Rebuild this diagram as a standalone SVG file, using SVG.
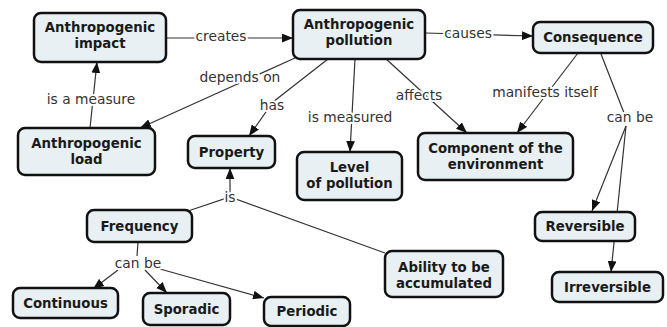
<svg xmlns="http://www.w3.org/2000/svg" width="667" height="327" viewBox="0 0 667 327">
<defs>
<style>
.node rect{fill:#e8f0f3;stroke:#111;stroke-width:2.5}
.node text{font-family:"DejaVu Sans",Verdana,sans-serif;font-weight:bold;font-size:13.3px;fill:#1a1a1a;text-anchor:middle}
.conn path{fill:none;stroke:#333;stroke-width:1.2}
.conn .a{marker-end:url(#arr)}
.lbl{font-family:"DejaVu Sans",Verdana,sans-serif;font-size:13.8px;fill:#333;text-anchor:middle;stroke:#fff;stroke-width:4;stroke-linejoin:round;paint-order:stroke}
</style>
<marker id="arr" viewBox="0 0 10 8" refX="10" refY="4" markerWidth="11" markerHeight="9" orient="auto" markerUnits="userSpaceOnUse">
<path d="M0,0 L10,4 L0,8 z" fill="#111"/>
</marker>
</defs>
<rect width="667" height="327" fill="#fff"/>
<g id="connectors" class="conn">
<path class="a" d="M166,38 L293,38"/>
<path class="a" d="M425,33 L533,36"/>
<path class="a" d="M295,58 L140,128"/>
<path class="a" d="M90,128 L97,62"/>
<path class="a" d="M328,59 L273,102 L249,136"/>
<path class="a" d="M355,59 L350,152"/>
<path class="a" d="M385,58 L467,133"/>
<path class="a" d="M578,53 L517,133"/>
<path d="M601,54 L626,118"/>
<path class="a" d="M626,126 L592,211"/>
<path class="a" d="M626,126 L611,272"/>
<path d="M188,211 L230,197 L385,253"/>
<path class="a" d="M230,197 L230,168"/>
<path d="M138,242 L137,256"/>
<path class="a" d="M118,270 L93,289"/>
<path class="a" d="M145,270 L167,293"/>
<path class="a" d="M160,269 L264,298"/>
<text class="lbl" x="221" y="41">creates</text>
<text class="lbl" x="468" y="38">causes</text>
<text class="lbl" x="240" y="82">depends on</text>
<text class="lbl" x="91" y="104">is a measure</text>
<text class="lbl" x="272" y="110">has</text>
<text class="lbl" x="350" y="122">is measured</text>
<text class="lbl" x="419" y="100">affects</text>
<text class="lbl" x="545" y="97">manifests itself</text>
<text class="lbl" x="630" y="122">can be</text>
<text class="lbl" x="230" y="202">is</text>
<text class="lbl" x="138" y="268">can be</text>
</g>
<g id="n-impact" class="node"><rect x="34" y="13" width="132" height="49" rx="7"/><text x="100" y="32">Anthropogenic</text><text x="100" y="48">impact</text></g>
<g id="n-pollution" class="node"><rect x="293" y="10" width="132" height="49" rx="7"/><text x="359" y="29">Anthropogenic</text><text x="359" y="45">pollution</text></g>
<g id="n-consequence" class="node"><rect x="533" y="22" width="120" height="31" rx="7"/><text x="593" y="42">Consequence</text></g>
<g id="n-load" class="node"><rect x="18" y="128" width="137" height="47" rx="7"/><text x="86.5" y="148">Anthropogenic</text><text x="86.5" y="164">load</text></g>
<g id="n-property" class="node"><rect x="188" y="136" width="87" height="32" rx="7"/><text x="231.5" y="157">Property</text></g>
<g id="n-level" class="node"><rect x="297" y="152" width="105" height="48" rx="7"/><text x="349.5" y="172">Level</text><text x="349.5" y="188">of pollution</text></g>
<g id="n-component" class="node"><rect x="418" y="133" width="155" height="47" rx="7"/><text x="495.5" y="153">Component of the</text><text x="495.5" y="169">environment</text></g>
<g id="n-frequency" class="node"><rect x="87" y="210" width="105" height="32" rx="7"/><text x="139.5" y="231">Frequency</text></g>
<g id="n-ability" class="node"><rect x="385" y="251" width="118" height="46" rx="7"/><text x="444" y="272">Ability to be</text><text x="444" y="288">accumulated</text></g>
<g id="n-reversible" class="node"><rect x="535" y="212" width="100" height="29" rx="7"/><text x="585" y="231">Reversible</text></g>
<g id="n-irreversible" class="node"><rect x="552" y="272" width="111" height="30" rx="7"/><text x="607.5" y="292">Irreversible</text></g>
<g id="n-continuous" class="node"><rect x="13" y="288" width="105" height="30" rx="7"/><text x="65.5" y="308">Continuous</text></g>
<g id="n-sporadic" class="node"><rect x="143" y="293" width="87" height="32" rx="7"/><text x="186.5" y="314">Sporadic</text></g>
<g id="n-periodic" class="node"><rect x="264" y="297" width="86" height="29" rx="7"/><text x="307" y="316">Periodic</text></g>
</svg>
